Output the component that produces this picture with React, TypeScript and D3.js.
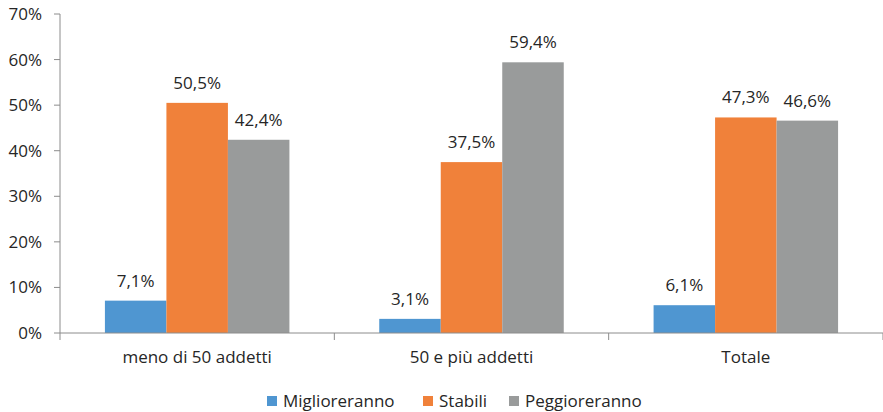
import React from "react";
import * as d3 from "d3";

const categories = ["meno di 50 addetti", "50 e più addetti", "Totale"];
const seriesNames = ["Miglioreranno", "Stabili", "Peggioreranno"];
const miglioreranno = [7.1, 3.1, 6.1];
const stabili = [50.5, 37.5, 47.3];
const peggioreranno = [42.4, 59.4, 46.6];
const yTicks = [0, 10, 20, 30, 40, 50, 60, 70];
const colors = ["#4F96D1", "#F0813A", "#999B9B"];

const W = 883, H = 412;
const left = 60, right = 883, top = 14, bottom = 333;
const font = "'Open Sans', 'DejaVu Sans', sans-serif";
const textColor = "#262626";
const axisColor = "#8C8C8C";
const fs = 17;

export default function App() {
  const series = [miglioreranno, stabili, peggioreranno];
  const x0 = d3.scaleBand<string>().domain(categories).range([left, right]).paddingInner(0).paddingOuter(0);
  const inner = 184.5 / x0.bandwidth();
  const x1 = d3.scaleBand<string>().domain(seriesNames).range([0, x0.bandwidth()]).paddingInner(0).paddingOuter((1 - inner) / 2 / (inner / 3));
  const y = d3.scaleLinear().domain([0, 70]).range([bottom, top]);
  const fmt = (v: number) => v.toFixed(1).replace(".", ",") + "%";
  const boundaries = [left, ...categories.map((c) => (x0(c) as number) + x0.bandwidth())];

  const legendX = [267, 423, 509];
  return (
    <svg width={W} height={H} style={{ position: "absolute", left: 0, top: 0, background: "#fff" }} fontFamily={font}>
      {series.map((vals, si) =>
        categories.map((c, ci) => {
          const bx = (x0(c) as number) + (x1(seriesNames[si]) as number);
          const by = y(vals[ci]);
          return (
            <g key={`${si}-${ci}`}>
              <rect x={bx} y={by} width={x1.bandwidth()} height={bottom - by} fill={colors[si]} />
              <text x={bx + x1.bandwidth() / 2} y={by - 14} textAnchor="middle" fontSize={fs} fill={textColor}>
                {fmt(vals[ci])}
              </text>
            </g>
          );
        })
      )}
      {/* y axis */}
      <line x1={left} x2={left} y1={top} y2={bottom} stroke={axisColor} strokeWidth={1} />
      {yTicks.map((t) => (
        <g key={t}>
          <line x1={left - 6} x2={left} y1={y(t)} y2={y(t)} stroke={axisColor} />
          <text x={42} y={y(t)} dy="0.35em" textAnchor="end" fontSize={fs} fill={textColor}>
            {t}%
          </text>
        </g>
      ))}
      {/* x axis */}
      <line x1={left} x2={right} y1={bottom} y2={bottom} stroke={axisColor} strokeWidth={1} />
      {boundaries.map((b, i) => (
        <line key={i} x1={b} x2={b} y1={bottom} y2={bottom + 7} stroke={axisColor} />
      ))}
      {categories.map((c) => (
        <text key={c} x={(x0(c) as number) + x0.bandwidth() / 2} y={363} textAnchor="middle" fontSize={fs} fill={textColor}>
          {c}
        </text>
      ))}
      {/* legend */}
      {seriesNames.map((s, i) => (
        <g key={s}>
          <rect x={legendX[i]} y={396} width={10} height={10} fill={colors[i]} />
          <text x={legendX[i] + 16} y={401} dy="0.35em" fontSize={fs} fill={textColor}>
            {s}
          </text>
        </g>
      ))}
    </svg>
  );
}
